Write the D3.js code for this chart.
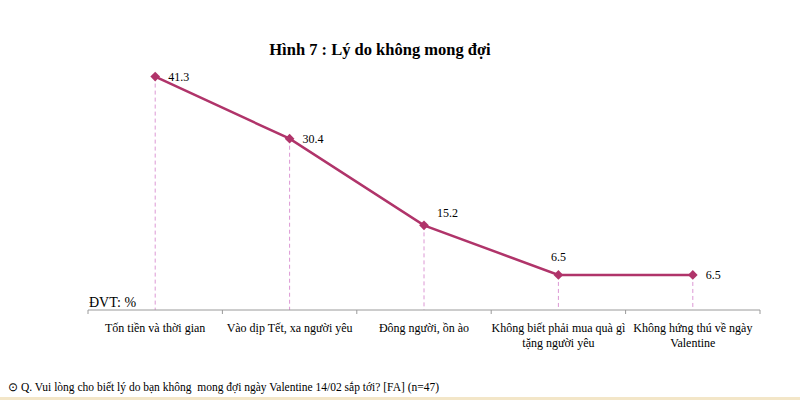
<!DOCTYPE html>
<html>
<head>
    <meta charset="utf-8">
    <script src="https://cdn.jsdelivr.net/npm/d3@7/dist/d3.min.js"></script>
    <style>
        body { margin: 0; background: #fff; }
        svg { display: block; font-family: "Liberation Serif", "Times New Roman", serif; }
    </style>
</head>
<body>
<svg id="chart"></svg>
<script>
    // Data
    const categories = ["Tốn tiền và thời gian", "Vào dịp Tết, xa người yêu", "Đông người, ồn ào", "Không biết phải mua quà gì tặng người yêu", "Không hứng thú về ngày Valentine"];
    const labelLines = [["Tốn tiền và thời gian"], ["Vào dịp Tết, xa người yêu"], ["Đông người, ồn ào"], ["Không biết phải mua quà gì", "tặng người yêu"], ["Không hứng thú về ngày", "Valentine"]];
    const values = [41.3, 30.4, 15.2, 6.5, 6.5];
    // where each value label sits relative to its point
    const labelPos = ["right", "right", "above-right", "above", "right"];

    let width = 800, height = 400;
    let svg = d3.select("#chart").attr("width", width).attr("height", height);

    let x = d3.scaleBand().domain(categories).range([88, 760]);
    let y = d3.scaleLinear().domain([0, 45]).range([312, 55.5]);
    let axisY = 310;
    let lineColor = "#b0346a";

    // Title
    svg.append("text")
        .attr("x", 380).attr("y", 55)
        .attr("text-anchor", "middle")
        .attr("font-size", 16.5).attr("font-weight", "bold")
        .text("Hình 7 : Lý do không mong đợi");

    // Drop lines
    svg.append("g").selectAll("line")
        .data(values)
        .join("line")
        .attr("x1", (d, i) => x(categories[i]) + x.bandwidth() / 2)
        .attr("x2", (d, i) => x(categories[i]) + x.bandwidth() / 2)
        .attr("y1", d => y(d))
        .attr("y2", axisY)
        .attr("stroke", "#dc98d4")
        .attr("stroke-width", 1)
        .attr("stroke-dasharray", "4,3");

    // Axis
    let xAxis = d3.axisBottom(x).tickSize(0).tickFormat("");
    let axisG = svg.append("g").attr("transform", `translate(0,${axisY})`).call(xAxis);
    axisG.select(".domain").attr("stroke", "#9a9a9a").attr("d", "M88,0H760");
    // boundary ticks
    svg.append("g").selectAll("line")
        .data(d3.range(categories.length + 1))
        .join("line")
        .attr("x1", i => 88 + i * x.step())
        .attr("x2", i => 88 + i * x.step())
        .attr("y1", axisY)
        .attr("y2", axisY + 4)
        .attr("stroke", "#9a9a9a");

    // Category labels
    svg.append("g").selectAll("text")
        .data(labelLines)
        .join("text")
        .attr("x", (d, i) => x(categories[i]) + x.bandwidth() / 2)
        .attr("y", 332)
        .attr("text-anchor", "middle")
        .attr("font-size", 12)
        .each(function(lines) {
            d3.select(this).selectAll("tspan")
                .data(lines)
                .join("tspan")
                .attr("x", d3.select(this).attr("x"))
                .attr("dy", (l, j) => j === 0 ? 0 : 15)
                .text(l => l);
        });

    // Unit label
    svg.append("text")
        .attr("x", 89).attr("y", 307)
        .attr("font-size", 14)
        .text("ĐVT: %");

    // Line
    let line = d3.line()
        .x((d, i) => x(categories[i]) + x.bandwidth() / 2)
        .y(d => y(d));
    svg.append("path")
        .datum(values)
        .attr("d", line)
        .attr("fill", "none")
        .attr("stroke", lineColor)
        .attr("stroke-width", 2.5);

    // Markers
    svg.append("g").selectAll("path")
        .data(values)
        .join("path")
        .attr("transform", (d, i) => `translate(${x(categories[i]) + x.bandwidth() / 2},${y(d)})`)
        .attr("d", d3.symbol(d3.symbolDiamond2, 60))
        .attr("fill", lineColor);

    // Value labels
    svg.append("g").selectAll("text")
        .data(values)
        .join("text")
        .attr("x", (d, i) => {
            let cx = x(categories[i]) + x.bandwidth() / 2;
            if (labelPos[i] === "above") return cx;
            return cx + 13;
        })
        .attr("y", (d, i) => {
            let cy = y(d);
            if (labelPos[i] === "above") return cy - 14;
            if (labelPos[i] === "above-right") return cy - 8;
            return cy + 4;
        })
        .attr("text-anchor", (d, i) => labelPos[i] === "above" ? "middle" : "start")
        .attr("font-size", 12)
        .text(d => d.toFixed(1));

    // Footer
    svg.append("text")
        .attr("x", 8).attr("y", 391)
        .attr("font-size", 11.5)
        .style("white-space", "pre")
        .text("⊙ Q. Vui lòng cho biết lý do bạn không  mong đợi ngày Valentine 14/02 sắp tới? [FA] (n=47)");
    svg.append("rect")
        .attr("x", 0).attr("y", 397).attr("width", width).attr("height", 3)
        .attr("fill", "#f3e6c8");
</script>
</body>
</html>
